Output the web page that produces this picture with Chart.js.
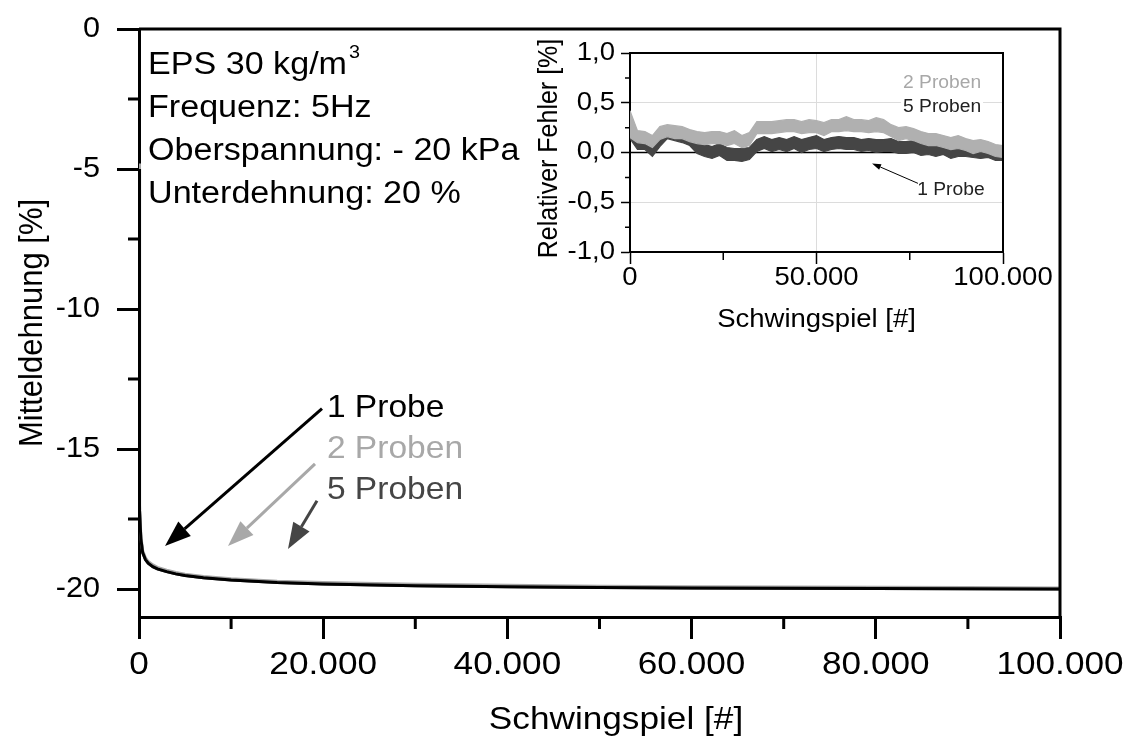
<!DOCTYPE html>
<html>
<head>
<meta charset="utf-8">
<script src="https://cdn.jsdelivr.net/npm/chart.js@4.4.1/dist/chart.umd.min.js"></script>
<style>
  html, body { margin: 0; padding: 0; background: #fff; }
  #wrap { position: relative; width: 1132px; height: 740px; }
  #main { position: absolute; left: 0; top: 0; }
  #inset { position: absolute; left: 530px; top: 30px; }
</style>
</head>
<body>
<div id="wrap">
  <canvas id="main" width="1132" height="740"></canvas>
  <canvas id="inset" width="530" height="310"></canvas>
</div>
<script>
// main chart: mean strain over load cycles
const mainCycles = [0, 20, 50, 100, 200, 400, 700, 1000, 1500, 2000, 3000, 4000, 5000, 7000, 10000,
  15000, 20000, 30000, 40000, 50000, 60000, 70000, 80000, 90000, 100000];
const mainProbe1 = [-5.0, -12.0, -15.5, -17.2, -18.2, -18.7, -18.95, -19.08, -19.2, -19.28, -19.38, -19.46,
  -19.52, -19.6, -19.68, -19.77, -19.82, -19.88, -19.92, -19.95, -19.96, -19.97, -19.98, -19.99, -20.0];
const mainProbe2 = [-4.8, -11.8, -15.3, -17.0, -18.1, -18.64, -18.89, -19.02, -19.14, -19.23, -19.33, -19.41,
  -19.47, -19.55, -19.63, -19.72, -19.77, -19.83, -19.87, -19.9, -19.92, -19.93, -19.94, -19.95, -19.96];
const mainProbe5 = [-5.0, -12.0, -15.5, -17.2, -18.2, -18.7, -18.95, -19.08, -19.2, -19.28, -19.38, -19.46,
  -19.52, -19.6, -19.68, -19.77, -19.82, -19.88, -19.92, -19.95, -19.96, -19.97, -19.98, -19.99, -20.0];
const mainXTicks = [0, 20000, 40000, 60000, 80000, 100000];
const mainXMinor = [10000, 30000, 50000, 70000, 90000];
const mainYTicks = [0, -5, -10, -15, -20];
const mainYMinor = [-2.5, -7.5, -12.5, -17.5];

// inset: relative error, noisy bands (upper / lower envelope)
const insetCycles = [0, 2000, 4000, 6000, 8000, 10000, 12000, 14000, 16000, 18000, 20000, 22000, 24000,
  26000, 28000, 30000, 32000, 34000, 36000, 38000, 40000, 42000, 44000, 46000, 48000, 50000, 52000, 54000,
  56000, 58000, 60000, 62000, 64000, 66000, 68000, 70000, 72000, 74000, 76000, 78000, 80000, 82000, 84000,
  86000, 88000, 90000, 92000, 94000, 96000, 98000, 100000];
const probe2Upper = [0.42, 0.22, 0.21, 0.17, 0.26, 0.28, 0.27, 0.26, 0.23, 0.21, 0.20, 0.21, 0.21, 0.19,
  0.22, 0.17, 0.20, 0.31, 0.31, 0.31, 0.32, 0.33, 0.33, 0.31, 0.33, 0.32, 0.30, 0.33, 0.33, 0.36, 0.33,
  0.33, 0.32, 0.35, 0.33, 0.28, 0.25, 0.26, 0.24, 0.21, 0.19, 0.19, 0.17, 0.15, 0.17, 0.14, 0.12, 0.13,
  0.11, 0.08, 0.07];
const probe2Lower = [0.15, 0.10, 0.09, 0.05, 0.13, 0.16, 0.14, 0.14, 0.11, 0.09, 0.08, 0.09, 0.09, 0.07,
  0.09, 0.05, 0.07, 0.19, 0.19, 0.19, 0.20, 0.21, 0.21, 0.19, 0.20, 0.20, 0.17, 0.21, 0.21, 0.22, 0.21,
  0.21, 0.20, 0.21, 0.20, 0.16, 0.12, 0.14, 0.12, 0.09, 0.07, 0.07, 0.05, 0.03, 0.04, 0.02, -0.01, 0.01,
  -0.01, -0.04, -0.05];
const probe5Upper = [0.26, 0.15, 0.15, 0.09, 0.18, 0.27, 0.24, 0.22, 0.19, 0.11, 0.08, 0.06, 0.09, 0.05,
  0.04, 0.04, 0.05, 0.13, 0.16, 0.13, 0.15, 0.13, 0.16, 0.13, 0.15, 0.17, 0.13, 0.15, 0.16, 0.15, 0.15,
  0.13, 0.14, 0.13, 0.13, 0.14, 0.11, 0.11, 0.12, 0.09, 0.10, 0.08, 0.10, 0.07, 0.08, 0.09, 0.07, 0.06,
  0.07, 0.04, 0.04];
const probe5Lower = [0.14, 0.03, 0.03, -0.04, 0.06, 0.14, 0.12, 0.10, 0.07, -0.01, -0.04, -0.06, -0.03,
  -0.08, -0.08, -0.09, -0.07, 0.01, 0.04, 0.01, 0.03, 0.01, 0.04, 0.00, 0.03, 0.04, 0.01, 0.03, 0.04,
  0.03, 0.03, 0.01, 0.02, 0.00, 0.01, 0.01, -0.01, -0.01, 0.00, -0.03, -0.02, -0.04, -0.02, -0.06, -0.04,
  -0.04, -0.05, -0.06, -0.05, -0.08, -0.08];
const probe1Cycles = [0, 100000];
const probe1Error = [0, 0];
const insetXTicks = [0, 50000, 100000];
const insetXMinor = [25000, 75000];
const insetYTicks = [-1, -0.5, 0, 0.5, 1];
const insetYMinor = [-0.75, -0.25, 0.25, 0.75];

const FONT = "'Liberation Sans', Arial, sans-serif";
const LIGHT = '#a8a8a8';
const DARK = '#454545';
const SX = 1.1; // the source picture is a bit wider than tall
Chart.defaults.font.family = FONT;
Chart.defaults.color = '#000';

function pts(xs, ys) {
  return xs.map((x, i) => ({ x: x, y: ys[i] }));
}
function thousands(v) {
  return String(v).replace(/\B(?=(\d{3})+(?!\d))/g, '.');
}
function wideText(ctx, text, x, y, size, o) {
  o = o || {};
  ctx.save();
  ctx.font = size + 'px ' + FONT;
  ctx.fillStyle = o.color || '#000';
  ctx.textAlign = o.align || 'left';
  ctx.textBaseline = 'middle';
  ctx.translate(x, y);
  if (o.vertical) { ctx.rotate(-Math.PI / 2); ctx.scale(1, SX); }
  else ctx.scale(o.sx || SX, 1);
  ctx.fillText(text, 0, 0);
  const w = ctx.measureText(text).width * (o.vertical ? 1 : (o.sx || SX));
  ctx.restore();
  return w;
}
function arrow(ctx, x1, y1, x2, y2, color, lw, headLen, headW) {
  const a = Math.atan2(y2 - y1, x2 - x1);
  const bx = x2 - headLen * Math.cos(a), by = y2 - headLen * Math.sin(a);
  ctx.save();
  ctx.strokeStyle = color; ctx.fillStyle = color; ctx.lineWidth = lw;
  ctx.beginPath(); ctx.moveTo(x1, y1); ctx.lineTo(bx, by); ctx.stroke();
  ctx.beginPath();
  ctx.moveTo(x2, y2);
  ctx.lineTo(bx + headW / 2 * Math.sin(a), by - headW / 2 * Math.cos(a));
  ctx.lineTo(bx - headW / 2 * Math.sin(a), by + headW / 2 * Math.cos(a));
  ctx.closePath(); ctx.fill();
  ctx.restore();
}

// annotation anchors in data units
const mainArrows = [
  { from: [19870, -13.56], to: [2823, -18.46], color: '#000' },
  { from: [19110, -15.53], to: [9663, -18.46], color: LIGHT },
  { from: [19327, -16.85], to: [16178, -18.57], color: DARK }
];
const mainLabels = [
  { text: '1 Probe', at: [20400, -13.56], color: '#000' },
  { text: '2 Proben', at: [20400, -15.03], color: LIGHT },
  { text: '5 Proben', at: [20400, -16.49], color: DARK }
];

const mainDecor = {
  id: 'mainDecor',
  afterDraw(chart) {
    const { ctx, chartArea: a, scales: { x, y } } = chart;
    ctx.save();
    ctx.strokeStyle = '#000';
    ctx.lineWidth = 3;
    ctx.beginPath();
    ctx.moveTo(a.left, a.top); ctx.lineTo(a.right, a.top); ctx.lineTo(a.right, a.bottom);
    ctx.stroke();
    ctx.beginPath();
    mainXMinor.forEach(v => {
      const px = x.getPixelForValue(v);
      ctx.moveTo(px, a.bottom); ctx.lineTo(px, a.bottom + 12);
    });
    mainYMinor.forEach(v => {
      const py = y.getPixelForValue(v);
      ctx.moveTo(a.left - 11, py); ctx.lineTo(a.left, py);
    });
    ctx.stroke();
    ctx.restore();

    // tick labels and axis titles
    mainXTicks.forEach(v => wideText(ctx, thousands(v), x.getPixelForValue(v), a.bottom + 48, 32, { align: 'center' }));
    mainYTicks.forEach(v => wideText(ctx, String(v), a.left - 39, y.getPixelForValue(v), 30, { align: 'right', sx: 1.02 }));
    wideText(ctx, 'Schwingspiel [#]', 616, 720, 32, { align: 'center' });
    wideText(ctx, 'Mitteldehnung [%]', 33, (a.top + a.bottom) / 2, 31, { align: 'center', vertical: true });

    // info block
    const lines = ['EPS 30 kg/m', 'Frequenz: 5Hz', 'Oberspannung: - 20 kPa', 'Unterdehnung: 20 %'];
    let w0 = 0;
    lines.forEach((t, i) => {
      const w = wideText(ctx, t, a.left + 9, a.top + 36 + i * 43, 31);
      if (i === 0) w0 = w;
    });
    wideText(ctx, '3', a.left + 11 + w0, a.top + 24, 18);

    mainArrows.forEach(ar => {
      arrow(ctx, x.getPixelForValue(ar.from[0]), y.getPixelForValue(ar.from[1]),
        x.getPixelForValue(ar.to[0]), y.getPixelForValue(ar.to[1]), ar.color, 3, 26, 19);
    });
    mainLabels.forEach(l => {
      wideText(ctx, l.text, x.getPixelForValue(l.at[0]), y.getPixelForValue(l.at[1]), 30.5, { color: l.color });
    });
  }
};

new Chart(document.getElementById('main'), {
  type: 'line',
  data: {
    datasets: [
      { label: '1 Probe', data: pts(mainCycles, mainProbe1), borderColor: '#000' },
      { label: '2 Proben', data: pts(mainCycles, mainProbe2), borderColor: LIGHT },
      { label: '5 Proben', data: pts(mainCycles, mainProbe5), borderColor: '#505050' }
    ]
  },
  options: {
    responsive: false,
    animation: false,
    layout: { padding: { left: 0, top: 29, right: 72, bottom: 0 } },
    plugins: { legend: { display: false }, tooltip: { enabled: false } },
    elements: { point: { radius: 0 }, line: { borderWidth: 3, tension: 0 } },
    scales: {
      x: {
        type: 'linear', min: 0, max: 100000,
        afterBuildTicks: s => { s.ticks = mainXTicks.map(v => ({ value: v })); },
        afterFit: s => { s.height = 123; },
        grid: { drawOnChartArea: false, tickLength: 22, lineWidth: 3, color: '#000' },
        border: { width: 3, color: '#000' },
        ticks: { display: false }
      },
      y: {
        type: 'linear', min: -21, max: 0,
        afterBuildTicks: s => { s.ticks = mainYTicks.map(v => ({ value: v })); },
        afterFit: s => { s.width = 139; },
        grid: { drawOnChartArea: false, tickLength: 22, lineWidth: 3, color: '#000' },
        border: { width: 3, color: '#000' },
        ticks: { display: false }
      }
    }
  },
  plugins: [mainDecor]
});

// inset
const insetDecor = {
  id: 'insetDecor',
  afterDraw(chart) {
    const { ctx, chartArea: a, scales: { x, y } } = chart;
    ctx.save();
    ctx.strokeStyle = '#000';
    ctx.lineWidth = 2;
    ctx.beginPath();
    ctx.moveTo(a.left, a.top); ctx.lineTo(a.right, a.top); ctx.lineTo(a.right, a.bottom);
    ctx.stroke();
    ctx.lineWidth = 1.5;
    ctx.beginPath();
    insetXMinor.forEach(v => {
      const px = x.getPixelForValue(v);
      ctx.moveTo(px, a.bottom); ctx.lineTo(px, a.bottom + 8);
    });
    insetYMinor.forEach(v => {
      const py = y.getPixelForValue(v);
      ctx.moveTo(a.left - 5, py); ctx.lineTo(a.left, py);
    });
    ctx.stroke();
    ctx.restore();

    insetXTicks.forEach(v => wideText(ctx, thousands(v), x.getPixelForValue(v), a.bottom + 26, 25, { align: 'center' }));
    insetYTicks.forEach(v => wideText(ctx, v.toFixed(1).replace('.', ','), a.left - 15, y.getPixelForValue(v), 25, { align: 'right' }));
    wideText(ctx, 'Schwingspiel [#]', (a.left + a.right) / 2, 290, 25, { align: 'center' });
    wideText(ctx, 'Relativer Fehler [%]', 19, (a.top + a.bottom) / 2 - 4, 25, { align: 'center', vertical: true });

    const lx = x.getPixelForValue(73200);
    wideText(ctx, '2 Proben', lx, y.getPixelForValue(0.695), 17.5, { color: LIGHT });
    const ly = y.getPixelForValue(0.455);
    ctx.save();
    ctx.fillStyle = '#fff';
    ctx.fillRect(lx - 2, ly - 9, 82, 18);
    ctx.restore();
    wideText(ctx, '5 Proben', lx, ly, 17.5, { color: '#222' });
    wideText(ctx, '1 Probe', x.getPixelForValue(77000), y.getPixelForValue(-0.38), 17.5, { color: '#222' });
    arrow(ctx, x.getPixelForValue(77200), y.getPixelForValue(-0.31),
      x.getPixelForValue(64900), y.getPixelForValue(-0.11), '#000', 1, 9, 6);
  }
};

new Chart(document.getElementById('inset'), {
  type: 'line',
  data: {
    datasets: [
      { label: '2 Proben max', data: pts(insetCycles, probe2Upper), borderColor: '#b0b0b0', backgroundColor: '#b0b0b0', fill: '+1' },
      { label: '2 Proben min', data: pts(insetCycles, probe2Lower), borderColor: '#b0b0b0', fill: false },
      { label: '5 Proben max', data: pts(insetCycles, probe5Upper), borderColor: DARK, backgroundColor: DARK, fill: '+1' },
      { label: '5 Proben min', data: pts(insetCycles, probe5Lower), borderColor: DARK, fill: false },
      { label: '1 Probe', data: pts(probe1Cycles, probe1Error), borderColor: '#000', borderWidth: 1.5, fill: false }
    ]
  },
  options: {
    responsive: false,
    animation: false,
    layout: { padding: { left: 0, top: 23, right: 57, bottom: 0 } },
    plugins: { legend: { display: false }, tooltip: { enabled: false } },
    elements: { point: { radius: 0 }, line: { borderWidth: 1.2, tension: 0 } },
    scales: {
      x: {
        type: 'linear', min: 0, max: 100000,
        afterBuildTicks: s => { s.ticks = insetXTicks.map(v => ({ value: v })); },
        afterFit: s => { s.height = 88; },
        grid: { color: c => (c.tick && (c.tick.value === 50000) ? '#dcdcdc' : 'rgba(0,0,0,0)'),
          tickColor: '#000', tickLength: 12, lineWidth: 1, tickWidth: 1.5 },
        border: { width: 2, color: '#000' },
        ticks: { display: false }
      },
      y: {
        type: 'linear', min: -1, max: 1,
        afterBuildTicks: s => { s.ticks = insetYTicks.map(v => ({ value: v })); },
        afterFit: s => { s.width = 100; },
        grid: { color: c => (c.tick && Math.abs(c.tick.value) === 0.5 ? '#dcdcdc' : 'rgba(0,0,0,0)'),
          tickColor: '#000', tickLength: 9, lineWidth: 1, tickWidth: 1.5 },
        border: { width: 2, color: '#000' },
        ticks: { display: false }
      }
    }
  },
  plugins: [insetDecor]
});
</script>
</body>
</html>
